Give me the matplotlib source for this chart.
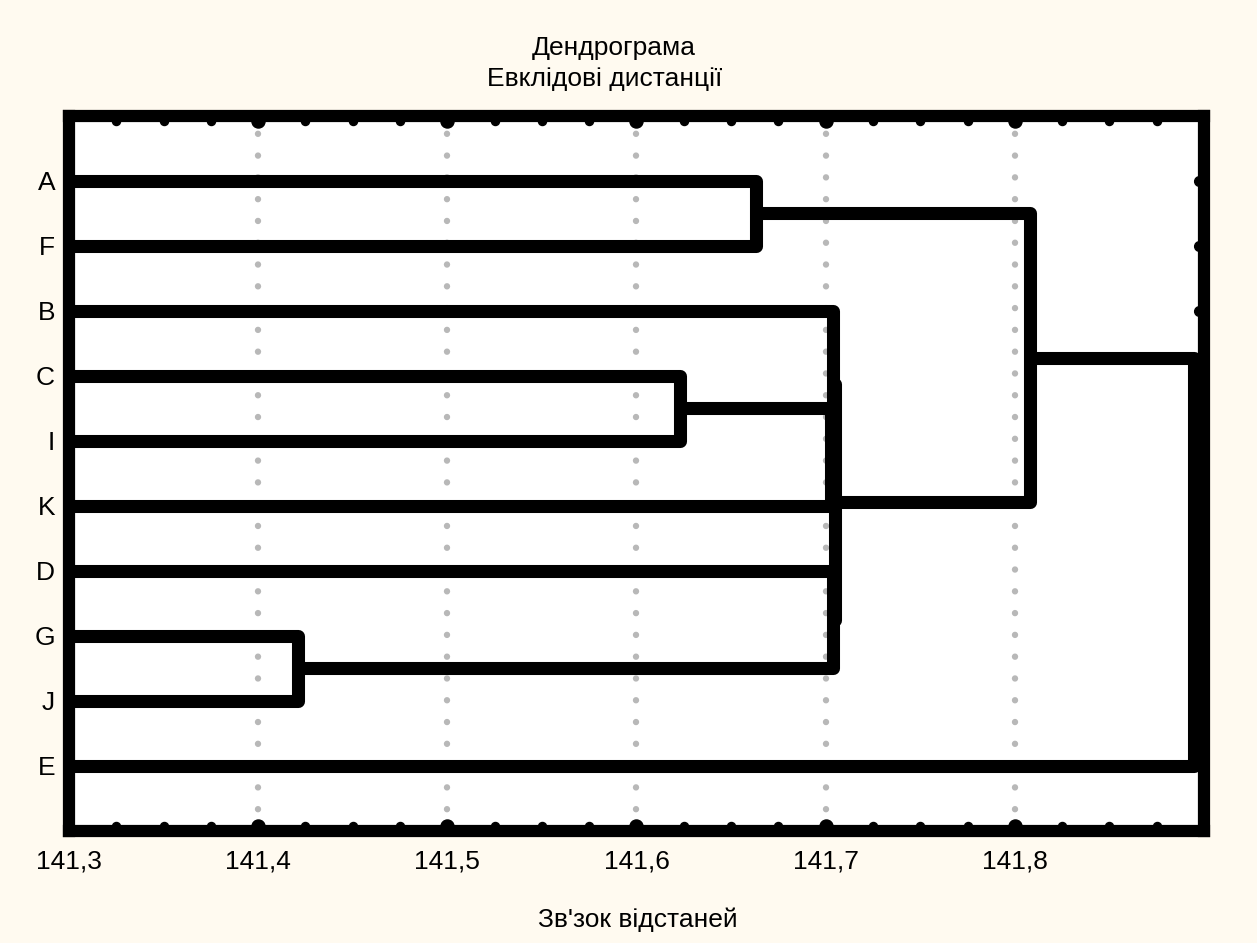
import numpy as np
import matplotlib.pyplot as plt
import matplotlib.transforms as mtransforms

plt.rcParams['font.family'] = ['Liberation Sans', 'DejaVu Sans']

leaves = ['A', 'F', 'B', 'C', 'I', 'K', 'D', 'G', 'J', 'E']
# linkage rows: ids 0..9 are the leaves, row k creates cluster 10 + k
merge_left = [7, 3, 0, 11, 2, 6, 14, 12, 17]
merge_right = [8, 4, 1, 5, 13, 10, 15, 16, 9]
merge_dist = [141.421, 141.623, 141.663, 141.703, 141.704,
              141.704, 141.705, 141.808, 141.895]

x_ticks = [141.3, 141.4, 141.5, 141.6, 141.7, 141.8]
x_ticklabels = ['141,3', '141,4', '141,5', '141,6', '141,7', '141,8']
x_min, x_max = 141.3, 141.9

LW = 9.4
BG = '#fffaf0'
FS = 19

fig = plt.figure(figsize=(12.57, 9.43), dpi=100, facecolor=BG)
ax = fig.add_axes([0.0549, 0.1188, 0.9029, 0.7582])
ax.set_facecolor('white')

n = len(leaves)
ypos = {i: i + 1 for i in range(n)}
xpos = {i: x_min for i in range(n)}
for k, (l, r, d) in enumerate(zip(merge_left, merge_right, merge_dist)):
    ax.plot([xpos[l], d, d, xpos[r]],
            [ypos[l], ypos[l], ypos[r], ypos[r]],
            color='black', lw=LW, solid_joinstyle='round',
            solid_capstyle='butt', zorder=3)
    ypos[n + k] = (ypos[l] + ypos[r]) / 2
    xpos[n + k] = d

ax.set_xlim(x_min, x_max)
ax.set_ylim(n + 1, 0)

# dotted grid at the inner major ticks
for xv in x_ticks[1:]:
    ax.axvline(xv, color='#b8b8b8', lw=4.6, linestyle=(0, (0.01, 3.4)),
               dash_capstyle='round', zorder=1)

ax.set_xticks(x_ticks, x_ticklabels)
ax.set_yticks(range(1, n + 1), leaves)
ax.tick_params(axis='x', length=0, pad=13, labelsize=FS)
ax.tick_params(axis='y', length=0, pad=10, labelsize=FS)

for sp in ax.spines.values():
    sp.set_linewidth(8.8)
    sp.set_color('black')
    sp.set_zorder(4)

# dot tick marks sitting on the inside of the frame
major = np.arange(x_min, x_max + 1e-9, 0.1)
minor = np.arange(x_min, x_max + 1e-9, 0.025)
minor = minor[np.abs((minor - x_min) / 0.1 - np.round((minor - x_min) / 0.1)) > 1e-6]
xt = ax.get_xaxis_transform()
top = mtransforms.offset_copy(xt, fig=fig, y=-5, units='dots')
bot = mtransforms.offset_copy(xt, fig=fig, y=5, units='dots')
for tr, yv in ((top, 1), (bot, 0)):
    ax.plot(minor, np.full(len(minor), yv), 'o', color='black', ms=5.8,
            transform=tr, clip_on=False, zorder=5)
    ax.plot(major[1:-1], np.full(len(major) - 2, yv), 'o', color='black',
            ms=9.4, transform=tr, clip_on=False, zorder=5)
right = mtransforms.offset_copy(ax.get_yaxis_transform(), fig=fig, x=-5,
                                units='dots')
ax.plot([1, 1, 1], [ypos[0], ypos[1], ypos[2]], 'o', color='black', ms=7,
        transform=right, clip_on=False, zorder=5)

fig.text(0.488, 0.9417, 'Дендрограма', ha='center', va='baseline',
         fontsize=FS)
fig.text(0.481, 0.9088, 'Евклідові дистанції', ha='center', va='baseline',
         fontsize=FS)
fig.text(0.5075, 0.017, "Зв'зок відстаней", ha='center', va='baseline',
         fontsize=FS)

fig.savefig('out.png', dpi=100, facecolor=BG)
